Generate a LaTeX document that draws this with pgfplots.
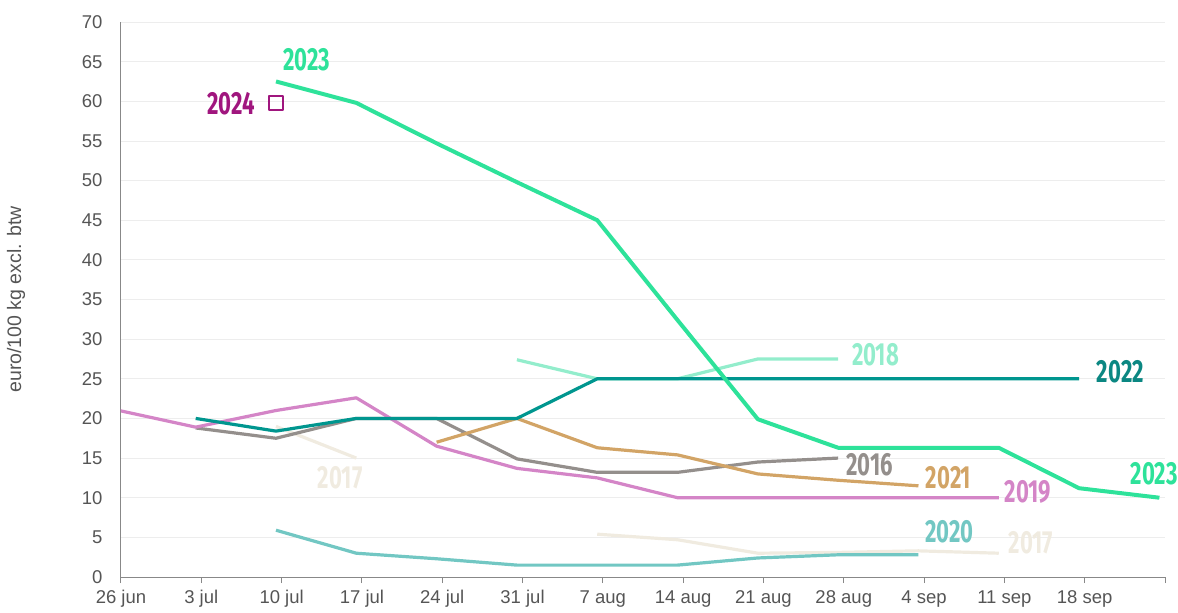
\documentclass[border=0pt]{standalone}
\usepackage{pgfplots}
\pgfplotsset{compat=1.18}
\usepackage{fontspec}
\setmainfont{Liberation Sans}
\newfontfamily\lblfont{Fira Sans}
\definecolor{c23}{HTML}{2EE29A}
\definecolor{c24}{HTML}{A0167E}
\definecolor{c22}{HTML}{00968F}
\definecolor{c22t}{HTML}{0B8782}
\definecolor{c18}{HTML}{93EDCC}
\definecolor{c16}{HTML}{948F8C}
\definecolor{c21}{HTML}{D2A466}
\definecolor{c19}{HTML}{D485C7}
\definecolor{c20}{HTML}{72C7C3}
\definecolor{c17}{HTML}{F0EBE0}
\definecolor{axisgray}{HTML}{888888}
\definecolor{gridgray}{HTML}{EDEDED}
\definecolor{ticktext}{HTML}{555555}
\newcommand\lbl[1]{\scalebox{0.69}[1]{\fontsize{32}{34}\lblfont\bfseries #1}}
\begin{document}
\begin{tikzpicture}
\begin{axis}[
 scale only axis, width=1044pt, height=555pt,
 xmin=0,xmax=13,ymin=0,ymax=70,
 axis x line*=bottom, axis y line*=left,
 axis line style={draw=axisgray, line width=1pt, -},
 xtick={0,...,13},
 xticklabels={26 jun,3 jul,10 jul,17 jul,24 jul,31 jul,7 aug,14 aug,21 aug,28 aug,4 sep,11 sep,18 sep,{}},
 ytick={0,5,...,70},
 tick align=outside, major tick length=6pt,
 xtick style={draw=axisgray, line width=1pt},
 ytick style={draw=none},
 ymajorgrids, grid style={draw=gridgray, line width=0.8pt},
 ticklabel style={font=\fontsize{18.5}{21}\selectfont, text=ticktext},
 yticklabel style={xshift=-9pt},
 xticklabel style={yshift=-4pt},
 /pgf/number format/assume math mode=true,
 clip mode=individual,
 every axis plot/.append style={line width=3.2pt, line join=round, x filter/.expression={x-0.07}},
]
% 2017
\addplot[c17] coordinates {(2,19) (3,15)};
\addplot[c17] coordinates {(6,5.4) (7,4.7) (8,3) (9,3.1) (10,3.3) (11,3)};
% 2016
\addplot[c16] coordinates {(1,18.8) (2,17.5) (3,20) (4,20) (5,14.9) (6,13.2) (7,13.2) (8,14.5) (9,15)};
% 2018
\addplot[c18] coordinates {(5,27.4) (6,25) (7,25) (8,27.5) (9,27.5)};
% 2019
\addplot[c19] coordinates {(0,21.1) (1,18.9) (2,21) (3,22.6) (4,16.5) (5,13.7) (6,12.5) (7,10) (8,10) (9,10) (10,10) (11,10)};
% 2020
\addplot[c20] coordinates {(2,5.9) (3,3) (4,2.3) (5,1.5) (6,1.5) (7,1.5) (8,2.4) (9,2.8) (10,2.8)};
% 2021
\addplot[c21] coordinates {(4,17) (5,20) (6,16.3) (7,15.4) (8,13) (9,12.2) (10,11.5)};
% 2022
\addplot[c22] coordinates {(1,20) (2,18.4) (3,20) (4,20) (5,20) (6,25) (7,25) (8,25) (9,25) (10,25) (11,25) (12,25)};
% 2023
\addplot[c23, line width=4pt] coordinates {(2,62.5) (3,59.8) (4,54.7) (5,49.8) (6,45) (7,32.4) (8,19.9) (9,16.3) (10,16.3) (11,16.3) (12,11.2) (13,10)};
% 2024
\addplot[c24, line width=1.5pt, mark=square, mark size=7pt, only marks] coordinates {(2,59.8)};
% labels
\node[anchor=west, text=c23, inner sep=0] at (axis cs:2.02,65.2) {\lbl{2023}};
\node[anchor=east, text=c24, inner sep=0] at (axis cs:1.67,59.7) {\lbl{2024}};
\node[anchor=west, text=c18, inner sep=0] at (axis cs:9.10,28.0) {\lbl{2018}};
\node[anchor=west, text=c22t, inner sep=0] at (axis cs:12.15,25.9) {\lbl{2022}};
\node[anchor=west, text=c16, inner sep=0] at (axis cs:9.03,14.1) {\lbl{2016}};
\node[anchor=west, text=c21, inner sep=0] at (axis cs:10.02,12.5) {\lbl{2021}};
\node[anchor=west, text=c19, inner sep=0] at (axis cs:11.0,10.7) {\lbl{2019}};
\node[anchor=west, text=c23, inner sep=0] at (axis cs:12.57,13.0) {\lbl{2023}};
\node[anchor=west, text=c20, inner sep=0] at (axis cs:10.01,5.7) {\lbl{2020}};
\node[anchor=west, text=c17, inner sep=0] at (axis cs:11.05,4.3) {\lbl{2017}};
\node[anchor=west, text=c17, inner sep=0] at (axis cs:2.45,12.5) {\lbl{2017}};
\node[rotate=90, text=ticktext, font=\fontsize{19.5}{22}\selectfont] at ([xshift=-105pt]rel axis cs:0,0.5) {euro/100 kg excl. btw};
\end{axis}
\pgfresetboundingbox
\path[use as bounding box] ([xshift=-121pt,yshift=-35pt]current axis.south west) rectangle ([xshift=13pt,yshift=22pt]current axis.north east);
\end{tikzpicture}
\end{document}
